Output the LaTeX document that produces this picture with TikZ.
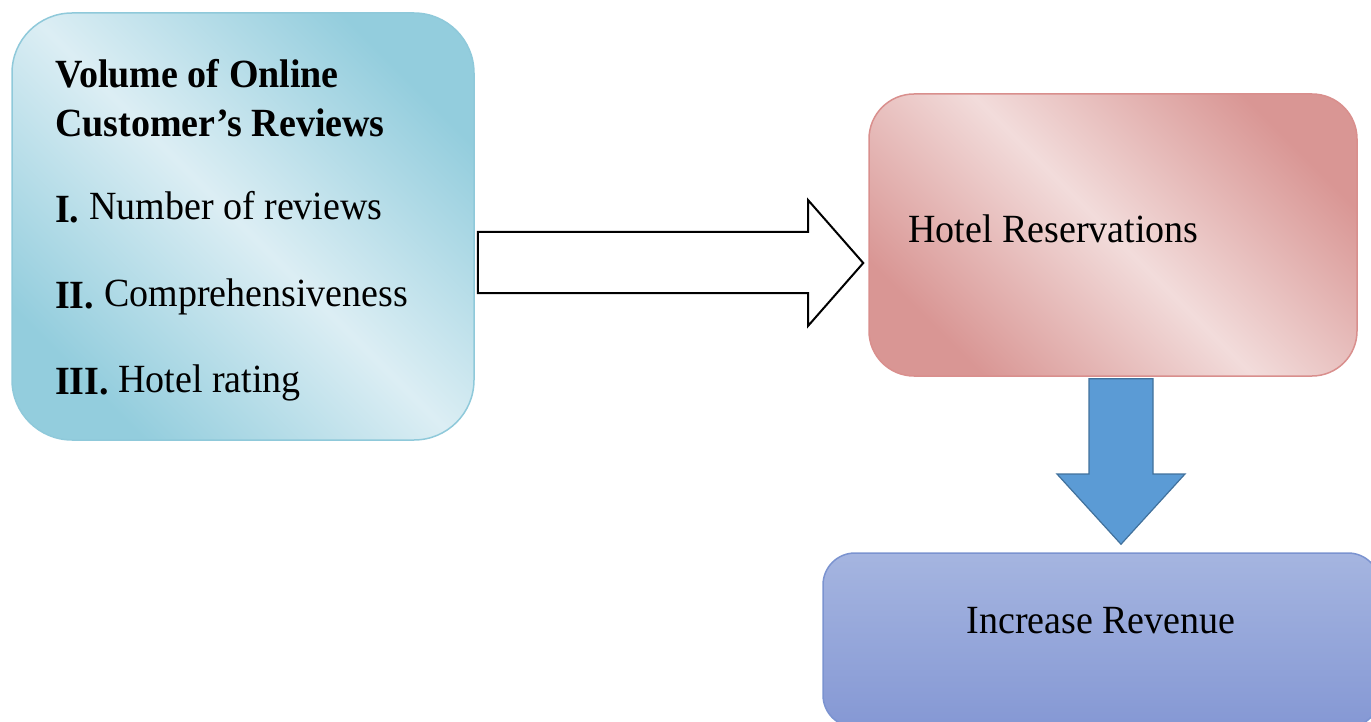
\documentclass[tikz,border=0pt]{standalone}
\usepackage{fontspec}
\setmainfont{Liberation Serif}[FakeStretch=0.95]
\definecolor{bdark}{HTML}{93CDDD}
\definecolor{blight}{HTML}{DCEEF4}
\definecolor{bborder}{HTML}{8FC9DA}
\definecolor{rdark}{HTML}{D99694}
\definecolor{rlight}{HTML}{F2DCDB}
\definecolor{rborder}{HTML}{D98F8D}
\definecolor{ptop}{HTML}{A5B5E0}
\definecolor{pbot}{HTML}{8598D4}
\definecolor{pborder}{HTML}{7B93D0}
\definecolor{afill}{HTML}{5B9BD5}
\definecolor{aborder}{HTML}{41719C}
\tikzset{
  txt/.style={inner sep=0pt, anchor=base west, font=\fontsize{40}{48}\selectfont},
  btxt/.style={txt, font=\fontsize{40}{48}\selectfont\bfseries},
  volbox/.style={draw=bborder, line width=1.5pt, rounded corners=60pt,
    top color=bdark, bottom color=bdark, middle color=blight, shading angle=-45,
    minimum width=462pt, minimum height=427pt, inner sep=0pt},
  resbox/.style={draw=rborder, line width=1.5pt, rounded corners=45pt,
    top color=rdark, bottom color=rdark, middle color=rlight, shading angle=-45,
    minimum width=488pt, minimum height=282pt, inner sep=0pt},
  revbox/.style={draw=pborder, line width=1.5pt, rounded corners=32pt,
    top color=ptop, bottom color=pbot,
    minimum width=557pt, minimum height=174pt, inner sep=0pt},
  hollowarrow/.style={draw=black, fill=white, line width=2pt, line join=miter},
  bluearrow/.style={draw=aborder, fill=afill, line width=1.2pt, line join=miter}
}
\begin{document}
\begin{tikzpicture}[x=1pt, y=-1pt]
\useasboundingbox (0,0) rectangle (1371,722);
\clip (0,0) rectangle (1371,722);
% boxes
\node[volbox] (vol) at (243,226.5) {};
\node[resbox] (res) at (1113,235) {};
\node[revbox] (rev) at (1101.5,640) {};
% texts
\node[btxt] (t1) at (55,88) {Volume of Online};
\node[btxt] (t2) at (55,137) {Customer’s Reviews};
\node[btxt] (n1) at (55,223) {I.};
\node[txt] (i1) at (89,220) {Number of reviews};
\node[btxt] (n2) at (55,308) {II.};
\node[txt] (i2) at (104,306) {Comprehensiveness};
\node[btxt] (n3) at (55,394) {III.};
\node[txt] (i3) at (118,392) {Hotel rating};
\node[txt] (hr) at (908,243) {Hotel Reservations};
\node[txt, anchor=base] (ir) at (1101,633) {Increase Revenue};
% hollow arrow from vol to res
\coordinate (a0) at ([xshift=3pt]vol.east |- 0,232);
\coordinate (tip1) at ([xshift=-5pt]res.west |- 0,263);
\draw[hollowarrow] (a0) -- (808,232) -- (808,200) -- (tip1) -- (808,326) -- (808,293) -- (a0 |- 0,293) -- cycle;
% blue down arrow from res to rev
\coordinate (b0) at (1089,0 |- res.south);
\coordinate (tip2) at (1121,0 |- rev.north);
\draw[bluearrow] ([yshift=-2pt]b0) -- ([yshift=-2pt]1153,0 |- b0) -- (1153,474) -- (1185,474) -- ([yshift=8pt]tip2) -- (1057,474) -- (1089,474) -- cycle;
\end{tikzpicture}
\end{document}
